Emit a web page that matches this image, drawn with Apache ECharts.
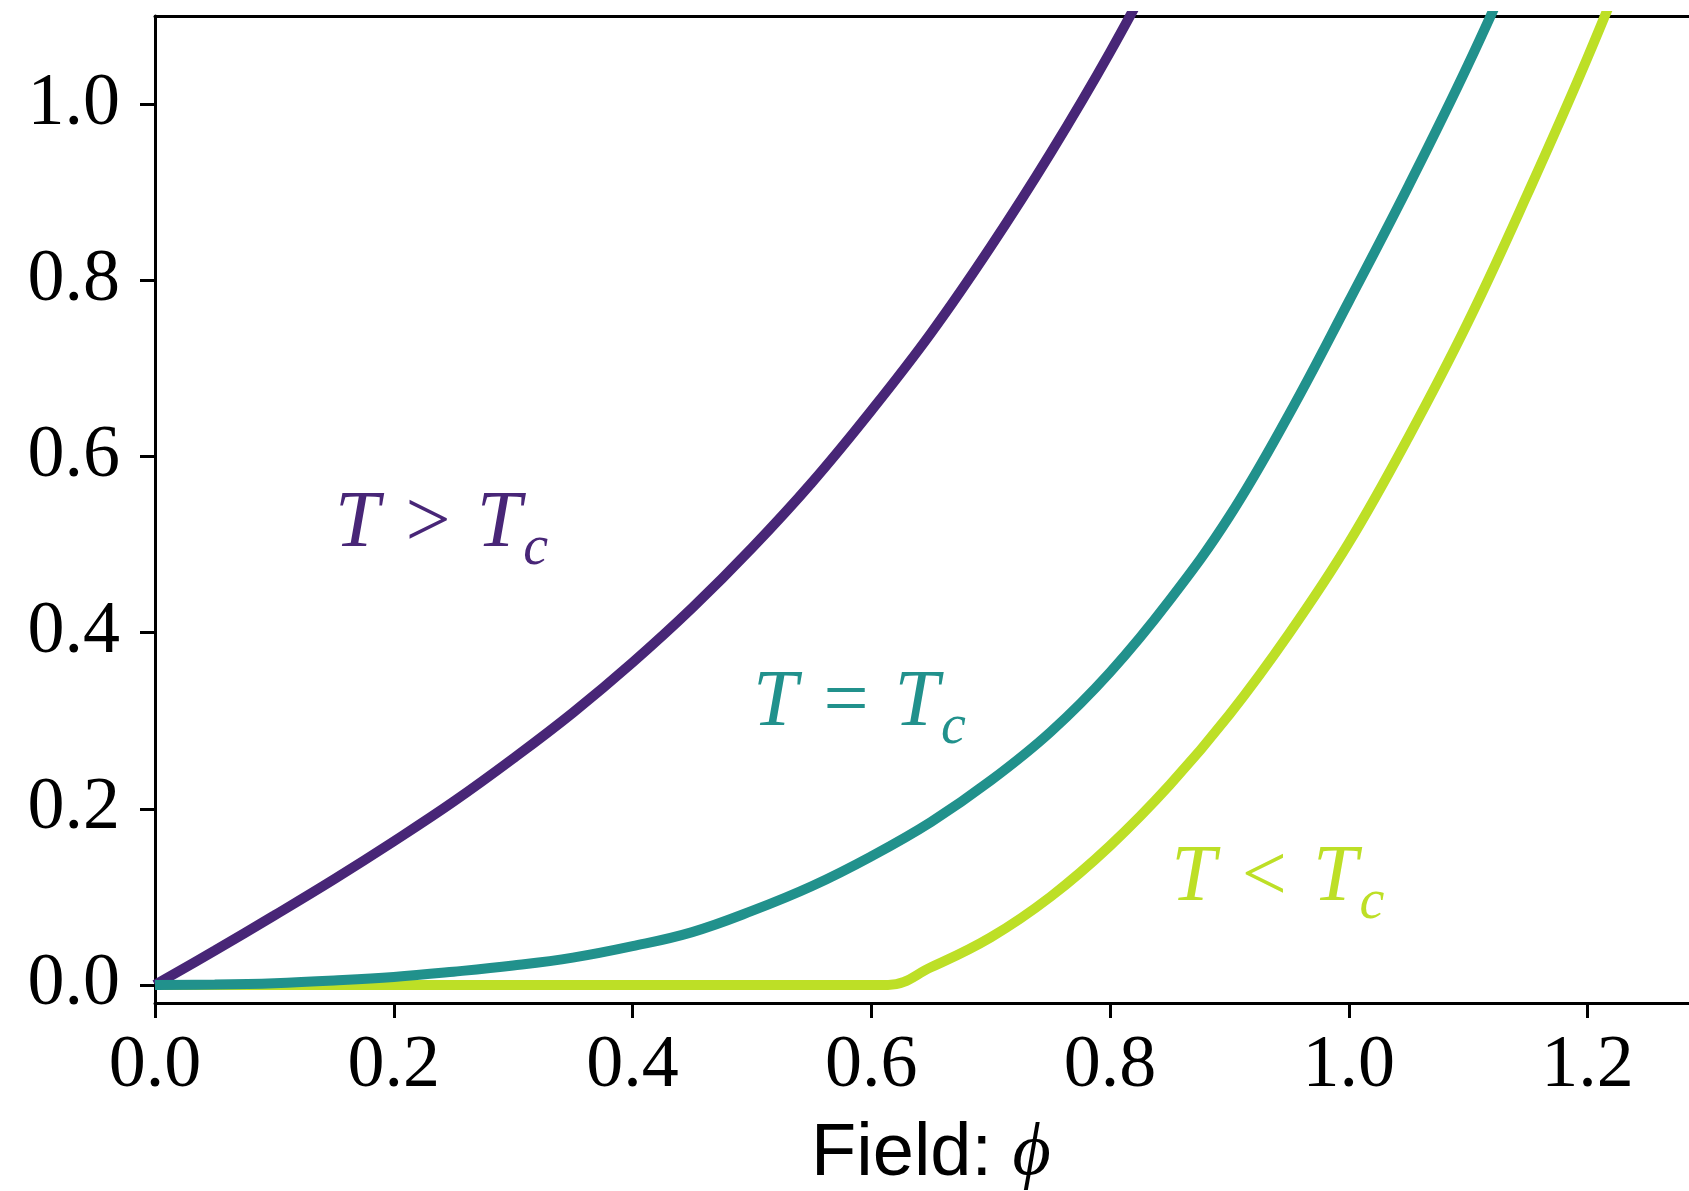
<!DOCTYPE html>
<html>
<head>
<meta charset="utf-8">
<script src="https://cdn.jsdelivr.net/npm/echarts@6/dist/echarts.min.js"></script>
<style>
  html, body { margin: 0; padding: 0; background: #fff; }
  #chart1 { width: 1689px; height: 1191px; }
</style>
</head>
<body>
<div id="chart1"></div>
<script>
// 初始化echarts实例
let chart1 = echarts.init(document.getElementById("chart1"));

// curve colours (viridis)
let colorAbove = '#482677';
let colorCrit = '#21918c';
let colorBelow = '#bddf26';

// T > Tc
let phiAbove = [0, 0.05, 0.10, 0.15, 0.20, 0.25, 0.30, 0.35, 0.40, 0.45, 0.50, 0.55, 0.60, 0.65, 0.70, 0.75, 0.80, 0.85];
let fAbove = [0, 0.039, 0.079, 0.120, 0.163, 0.208, 0.257, 0.309, 0.366, 0.428, 0.496, 0.570, 0.652, 0.740, 0.838, 0.944, 1.059, 1.185];

// T = Tc
let phiCrit = [0, 0.05, 0.10, 0.15, 0.20, 0.25, 0.30, 0.35, 0.40, 0.45, 0.50, 0.55, 0.60, 0.65, 0.70, 0.75, 0.80, 0.85, 0.90, 0.95, 1.00, 1.05, 1.10, 1.15];
let fCrit = [0, 0.0005, 0.002, 0.005, 0.009, 0.015, 0.022, 0.031, 0.044, 0.060, 0.084, 0.112, 0.146, 0.185, 0.232, 0.287, 0.355, 0.437, 0.532, 0.648, 0.776, 0.907, 1.045, 1.195];

// T < Tc
let phiBelow = [0, 0.30, 0.614, 0.65, 0.70, 0.75, 0.80, 0.85, 0.90, 0.95, 1.00, 1.05, 1.10, 1.15, 1.20, 1.25];
let fBelow = [0, 0, 0, 0.020, 0.054, 0.100, 0.158, 0.227, 0.307, 0.399, 0.502, 0.622, 0.753, 0.899, 1.053, 1.220];

// tick values
let xTicks = [0, 0.2, 0.4, 0.6, 0.8, 1.0, 1.2];
let yTicks = [0, 0.2, 0.4, 0.6, 0.8, 1.0];

function zip(xs, ys) {
    return xs.map((x, i) => [x, ys[i]]);
}

function annotation(color) {
    return {
        t: { fontFamily: 'Liberation Serif', fontStyle: 'italic', fontSize: 80, color: color, lineHeight: 90, verticalAlign: 'top' },
        op: { fontFamily: 'Liberation Serif', fontSize: 80, color: color, lineHeight: 90, padding: [0, 26, 0, 26], verticalAlign: 'top' },
        s: { fontFamily: 'Liberation Serif', fontStyle: 'italic', fontSize: 56, color: color, lineHeight: 60, padding: [36, 0, 0, 2], verticalAlign: 'top' }
    };
}

function curve(name, data, color, z, text, at) {
    return {
        name: name,
        type: 'line',
        data: data,
        showSymbol: false,
        smooth: 0.4,
        clip: true,
        z: z,
        lineStyle: { color: color, width: 10 },
        markPoint: {
            symbolSize: 0,
            silent: true,
            data: [{ coord: at }],
            label: {
                show: true,
                offset: [0, 12],
                formatter: text,
                rich: annotation(color)
            }
        }
    };
}

let axisText = { fontFamily: 'Liberation Serif', fontSize: 74, color: '#000' };

let option = {
    backgroundColor: '#fff',
    animation: false,
    grid: { left: 155, right: -18, top: 16, bottom: 188, containLabel: false, outerBoundsMode: 'none' },
    xAxis: [{
        type: 'value',
        min: 0,
        max: 1.3,
        position: 'bottom',
        axisLine: { show: true, onZero: false, lineStyle: { color: '#000', width: 3 } },
        axisTick: { show: true, length: 15, customValues: xTicks, lineStyle: { color: '#000', width: 3 } },
        axisLabel: Object.assign({ margin: 27, customValues: xTicks, formatter: v => v.toFixed(1) }, axisText),
        splitLine: { show: false },
        name: '{a|Field: }{b|ϕ}',
        nameLocation: 'middle',
        nameGap: 110,
        nameTextStyle: {
            rich: {
                a: { fontFamily: 'Liberation Sans', fontSize: 74, color: '#000', lineHeight: 84 },
                b: { fontFamily: "'Liberation Serif', 'DejaVu Serif', serif", fontStyle: 'italic', fontSize: 74, color: '#000', lineHeight: 84 }
            }
        }
    }, {
        type: 'value',
        min: 0,
        max: 1.3,
        position: 'top',
        axisLine: { show: true, onZero: false, lineStyle: { color: '#000', width: 3 } },
        axisTick: { show: false },
        axisLabel: { show: false },
        splitLine: { show: false }
    }],
    yAxis: {
        type: 'value',
        min: -0.0205,
        max: 1.1,
        axisLine: { show: true, onZero: false, lineStyle: { color: '#000', width: 3 } },
        axisTick: { show: true, length: 15, customValues: yTicks, lineStyle: { color: '#000', width: 3 } },
        axisLabel: Object.assign({ margin: 35, customValues: yTicks, formatter: v => v.toFixed(1) }, axisText),
        splitLine: { show: false }
    },
    series: [
        curve('T > Tc', zip(phiAbove, fAbove), colorAbove, 2, '{t|T}{op|>}{t|T}{s|c}', [0.240, 0.53]),
        curve('T < Tc', zip(phiBelow, fBelow), colorBelow, 3, '{t|T}{op|<}{t|T}{s|c}', [0.9405, 0.128]),
        curve('T = Tc', zip(phiCrit, fCrit), colorCrit, 4, '{t|T}{op|=}{t|T}{s|c}', [0.590, 0.327])
    ]
};
window.onresize = chart1.resize;
chart1.setOption(option);
</script>
</body>
</html>
